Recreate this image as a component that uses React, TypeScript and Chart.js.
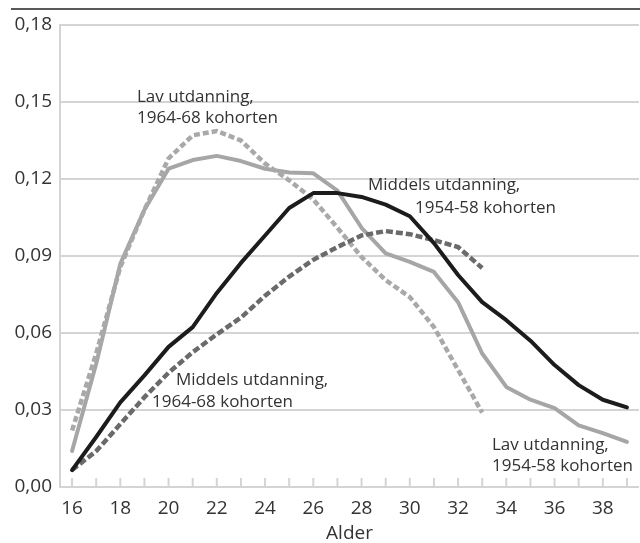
import React, { useEffect, useRef } from 'react';
import { Chart, registerables } from 'chart.js';

Chart.register(...registerables);

const ages = ['16','17','18','19','20','21','22','23','24','25','26','27','28','29','30','31','32','33','34','35','36','37','38','39'];

const middels5458 = [0.0066, 0.0195, 0.033, 0.0435, 0.0546, 0.0623, 0.0756, 0.0873, 0.098, 0.1087, 0.1145, 0.1145, 0.113, 0.110, 0.1055, 0.095, 0.0826, 0.072, 0.065, 0.057, 0.0475, 0.0397, 0.034, 0.031];
const lav5458 = [0.014, 0.048, 0.087, 0.108, 0.124, 0.1274, 0.129, 0.127, 0.124, 0.1225, 0.1222, 0.1155, 0.101, 0.091, 0.0877, 0.0838, 0.072, 0.052, 0.039, 0.034, 0.0307, 0.024, 0.021, 0.0176];
const lav6468 = [0.022, 0.052, 0.0857, 0.108, 0.128, 0.137, 0.1387, 0.135, 0.126, 0.1195, 0.112, 0.101, 0.0896, 0.0806, 0.074, 0.0623, 0.0456, 0.029];
const middels6468 = [0.0066, 0.014, 0.0245, 0.035, 0.0445, 0.0525, 0.0595, 0.066, 0.0745, 0.082, 0.0885, 0.0935, 0.098, 0.0997, 0.0985, 0.0962, 0.0935, 0.0853];

const yTickValues = [0, 0.03, 0.06, 0.09, 0.12, 0.15, 0.18];

const annotations: [string, number, number][] = [
  ['Lav utdanning,', 137, 97],
  ['1964-68 kohorten', 137, 118],
  ['Middels utdanning,', 368, 185],
  ['1954-58 kohorten', 415, 208],
  ['Middels utdanning,', 176, 380],
  ['1964-68 kohorten', 152, 402],
  ['Lav utdanning,', 492, 445],
  ['1954-58 kohorten', 492, 466],
];

const FONT = "'Open Sans', 'Noto Sans', sans-serif";
const TEXT = '#333333';
const GRID = '#d4d4d4';

const decorPlugin = {
  id: 'decor',
  beforeDatasetsDraw(chart: any) {
    const { ctx, scales } = chart;
    const xs = scales.x;
    const bottom = chart.chartArea.bottom;
    ctx.save();
    ctx.strokeStyle = GRID;
    ctx.lineWidth = 2;
    for (let i = 0; i < ages.length; i++) {
      const px = xs.getPixelForValue(i);
      ctx.beginPath();
      ctx.moveTo(px, bottom);
      ctx.lineTo(px, bottom - 9);
      ctx.stroke();
    }
    ctx.restore();
  },
  afterDraw(chart: any) {
    const { ctx } = chart;
    ctx.save();
    ctx.strokeStyle = '#222222';
    ctx.lineWidth = 1.5;
    ctx.beginPath();
    ctx.moveTo(11, 9);
    ctx.lineTo(640, 9);
    ctx.stroke();
    ctx.fillStyle = TEXT;
    ctx.font = `400 17px ${FONT}`;
    ctx.textBaseline = 'middle';
    ctx.textAlign = 'left';
    for (const [t, x, y] of annotations) ctx.fillText(t, x, y);
    ctx.restore();
  },
};

export default function App() {
  const ref = useRef<HTMLCanvasElement>(null);
  useEffect(() => {
    if (!ref.current) return;
    const chart = new Chart(ref.current, {
      type: 'line',
      data: {
        labels: ages,
        datasets: [
          { label: 'Middels utdanning, 1954-58 kohorten', data: middels5458, borderColor: '#1c1c1c', borderWidth: 4, pointRadius: 0, tension: 0, fill: false, borderJoinStyle: 'round', borderCapStyle: 'round' },
          { label: 'Middels utdanning, 1964-68 kohorten', data: middels6468, borderColor: '#6a6a6a', borderWidth: 4.5, borderDash: [7, 3], pointRadius: 0, tension: 0, fill: false },
          { label: 'Lav utdanning, 1964-68 kohorten', data: lav6468, borderColor: '#a9a9a9', borderWidth: 4.5, borderDash: [6, 3], pointRadius: 0, tension: 0, fill: false },
          { label: 'Lav utdanning, 1954-58 kohorten', data: lav5458, borderColor: '#a6a6a6', borderWidth: 4, pointRadius: 0, tension: 0, fill: false, borderJoinStyle: 'round', borderCapStyle: 'round' },
        ],
      },
      options: {
        animation: false,
        responsive: false,
        maintainAspectRatio: false,
        layout: { padding: { top: 25, right: 1, bottom: 0, left: 0 } },
        plugins: { legend: { display: false }, tooltip: { enabled: false } },
        scales: {
          x: {
            type: 'category',
            offset: true,
            grid: { display: false, drawTicks: false },
            border: { display: false },
            ticks: {
              autoSkip: false,
              maxRotation: 0,
              padding: 10,
              color: TEXT,
              font: { family: FONT, size: 19, weight: 400 },
              callback: (_v: any, i: number) => (i % 2 === 0 ? ages[i] : ''),
            },
            title: {
              display: true,
              text: 'Alder',
              color: TEXT,
              font: { family: FONT, size: 19, weight: 400, lineHeight: 1 },
              padding: { top: 0, bottom: 0 },
            },
            afterFit: (s: any) => { s.height = 56; },
          },
          y: {
            min: 0,
            max: 0.18,
            grid: { color: GRID, lineWidth: 2, drawTicks: false },
            border: { display: true, color: GRID, width: 2 },
            ticks: {
              padding: 8,
              color: TEXT,
              font: { family: FONT, size: 19, weight: 400 },
              callback: (v: any) => Number(v).toFixed(2).replace('.', ','),
            },
            afterBuildTicks: (s: any) => { s.ticks = yTickValues.map((v) => ({ value: v })); },
            afterFit: (s: any) => { s.width = 60; },
          },
        },
      },
      plugins: [decorPlugin],
    });
    return () => chart.destroy();
  }, []);
  return (
    <div style={{ position: 'absolute', left: 0, top: 0, width: 640, height: 543, background: '#fff' }}>
      <canvas ref={ref} width={640} height={543} style={{ display: 'block' }} />
    </div>
  );
}
